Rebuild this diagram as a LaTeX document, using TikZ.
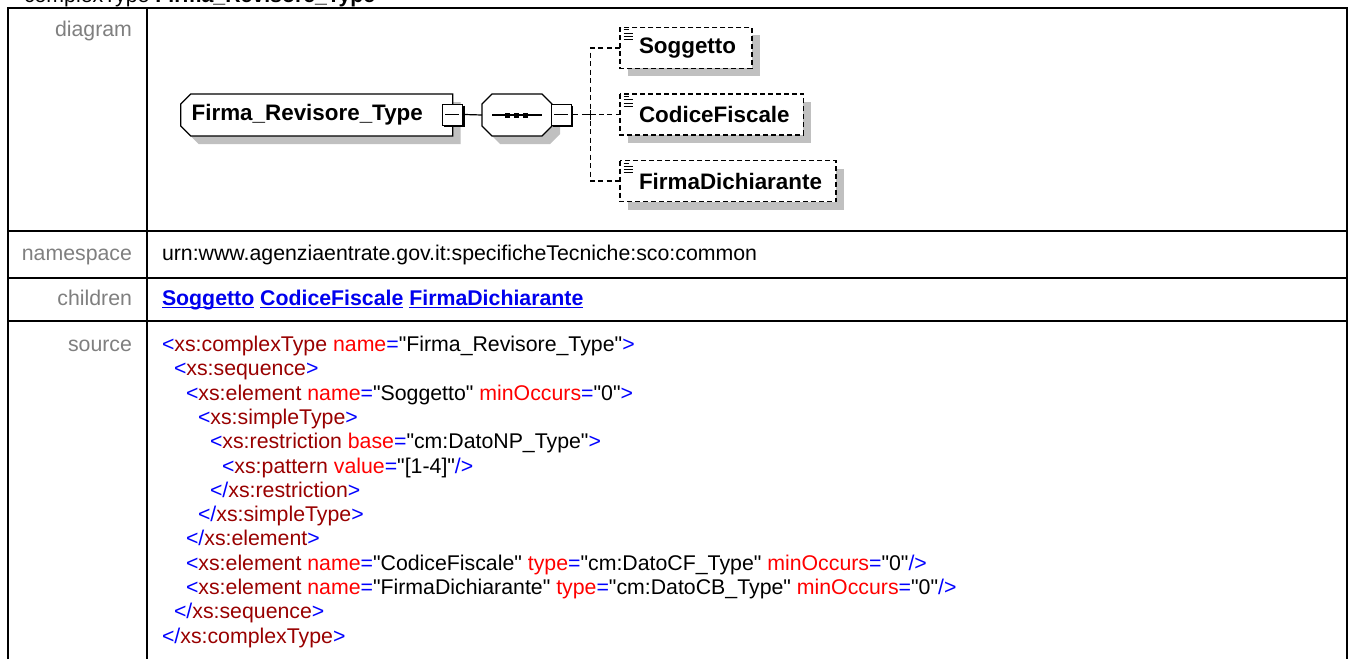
\documentclass[tikz,border=0pt]{standalone}
\usepackage{fontspec}
\setmainfont{Liberation Sans}
\usetikzlibrary{calc}
\definecolor{lblgray}{HTML}{7F7F7F}
\definecolor{tagc}{HTML}{990000}
\definecolor{attc}{HTML}{FF0000}
\definecolor{punc}{HTML}{0000FF}
\definecolor{shd}{HTML}{C0C0C0}
\definecolor{linkc}{HTML}{0000EE}
\newcommand\tf{\fontsize{21.3}{24.3}\selectfont}
\newcommand\ef{\fontsize{22.4}{26}\selectfont\bfseries}
\newcommand\xp[1]{\textcolor{punc}{#1}}
\newcommand\xt[1]{\textcolor{tagc}{#1}}
\newcommand\xa[1]{\textcolor{attc}{#1}}
\newcommand\qq{\textquotedbl}
\newcommand\lnk[1]{\textcolor{linkc}{\setbox0\hbox{#1}\rlap{\rule[-2.4pt]{\wd0}{1.4pt}}\box0}}
\newcommand\mkelem[5]{%
  \path (#2,#3) node[anchor=west, minimum width=#4pt, minimum height=41pt] (#1) {};
  \fill[shd] ([shift={(8,8)}]#1.north west) rectangle ([shift={(8,8)}]#1.south east);
  \draw[elembox] (#1.north west) rectangle (#1.south east);
  \node[etext] (#1t) at ([xshift=19pt]#1.west) {#5};
  \draw[line width=0.9pt] ([shift={(3.5,2.5)}]#1.north west) -- ++(5,0);
  \foreach \yy in {5.8,9.1,12.4} \draw[line width=0.9pt] ([shift={(3.5,\yy)}]#1.north west) -- ++(9,0);
}
\begin{document}
\begin{tikzpicture}[x=1pt,y=-1pt,
  every node/.style={inner sep=0pt, outer sep=0pt},
  lbl/.style={anchor=base east, text=lblgray, font=\tf},
  src/.style={anchor=base west, font=\tf},
  etext/.style={anchor=west, font=\ef, text=black},
  elembox/.style={draw=black, line width=1.6pt, dash pattern=on 5pt off 3pt, fill=white},
  conn/.style={line width=1.2pt},
  dconn/.style={line width=1.5pt, dash pattern=on 5pt off 3.5pt},
  tbl/.style={line width=2.5pt},
  minusbox/.style={draw=black, fill=white, line width=1pt, minimum width=20pt, minimum height=21pt},
]
\useasboundingbox (0,0) rectangle (1349,659);
\fill[white] (0,0) rectangle (1349,659);

% title (cut off at top)
\node[anchor=base west, font=\tf] (title) at (24,2) {complexType \textbf{Firma\_Revisore\_Type}};

% table
\draw[tbl] (8,659) -- (8,8) -- (1347,8) -- (1347,659);
\draw[tbl] (147,8) -- (147,659);
\draw[tbl] (8,231) -- (1347,231);
\draw[tbl] (8,278) -- (1347,278);
\draw[tbl] (8,321) -- (1347,321);

% labels
\node[lbl] (ldiag) at (132,36.5) {diagram};
\node[lbl] (lns) at (132,260.5) {namespace};
\node[lbl] (lch) at (132,305.5) {children};
\node[lbl] (lsrc) at (132,351.5) {source};

% namespace / children
\node[src] (ns) at (162,260.5) {urn:www.agenziaentrate.gov.it:specificheTecniche:sco:common};
\node[src, font=\tf\bfseries] (ch) at (162,305.5) {\lnk{Soggetto} \lnk{CodiceFiscale} \lnk{FirmaDichiarante}};

% source
\node[src] (s0) at (162,351.5) {\xp{<}\xt{xs:complexType} \xa{name}\xp{=}\qq Firma\_Revisore\_Type\qq\xp{>}};
\node[src] (s1) at (174,375.8) {\xp{<}\xt{xs:sequence}\xp{>}};
\node[src] (s2) at (186,400.1) {\xp{<}\xt{xs:element} \xa{name}\xp{=}\qq Soggetto\qq{} \xa{minOccurs}\xp{=}\qq 0\qq\xp{>}};
\node[src] (s3) at (198,424.4) {\xp{<}\xt{xs:simpleType}\xp{>}};
\node[src] (s4) at (210,448.7) {\xp{<}\xt{xs:restriction} \xa{base}\xp{=}\qq cm:DatoNP\_Type\qq\xp{>}};
\node[src] (s5) at (222,473.0) {\xp{<}\xt{xs:pattern} \xa{value}\xp{=}\qq[1-4]\qq\xp{/>}};
\node[src] (s6) at (210,497.3) {\xp{</}\xt{xs:restriction}\xp{>}};
\node[src] (s7) at (198,521.6) {\xp{</}\xt{xs:simpleType}\xp{>}};
\node[src] (s8) at (186,545.9) {\xp{</}\xt{xs:element}\xp{>}};
\node[src] (s9) at (186,570.2) {\xp{<}\xt{xs:element} \xa{name}\xp{=}\qq CodiceFiscale\qq{} \xa{type}\xp{=}\qq cm:DatoCF\_Type\qq{} \xa{minOccurs}\xp{=}\qq 0\qq\xp{/>}};
\node[src] (s10) at (186,594.5) {\xp{<}\xt{xs:element} \xa{name}\xp{=}\qq FirmaDichiarante\qq{} \xa{type}\xp{=}\qq cm:DatoCB\_Type\qq{} \xa{minOccurs}\xp{=}\qq 0\qq\xp{/>}};
\node[src] (s11) at (174,618.8) {\xp{</}\xt{xs:sequence}\xp{>}};
\node[src] (s12) at (162,643.1) {\xp{</}\xt{xs:complexType}\xp{>}};

% ---- diagram ----
% root
\begin{scope}[shift={(8,8)}]
\fill[shd] (190.7,94) -- (452.7,94) -- (452.7,136) -- (190.7,136) -- (180.7,126) -- (180.7,104) -- cycle;
\end{scope}
\draw[line width=1.2pt, fill=white] (190.7,94) -- (452.7,94) -- (452.7,136) -- (190.7,136) -- (180.7,126) -- (180.7,104) -- cycle;
\node[etext] (root) at (191.7,115) {Firma\_Revisore\_Type};
\node[minusbox] (rbox) at (452.2,114.5) {};
\draw[line width=2.4pt] ([shift={(1.2,1.5)}]rbox.north east) -- ([shift={(1.2,1.2)}]rbox.south east) -- ([shift={(1.5,1.2)}]rbox.south west);
\draw[line width=1.2pt] ([xshift=3pt]rbox.west) -- ([xshift=-3pt]rbox.east);

% sequence
\path (517,115) node[minimum width=70pt, minimum height=42pt] (seq) {};
\begin{scope}[shift={(8,8)}]
\fill[shd] (492,94) -- (542,94) -- (552,104) -- (552,126) -- (542,136) -- (492,136) -- (482,126) -- (482,104) -- cycle;
\end{scope}
\draw[line width=1.2pt, fill=white] (492,94) -- (542,94) -- (552,104) -- (552,126) -- (542,136) -- (492,136) -- (482,126) -- (482,104) -- cycle;
\draw[conn] (492,115) -- (542,115);
\fill (505,112.5) rectangle +(5,5);
\fill (514,112.5) rectangle +(5,5);
\fill (523,112.5) rectangle +(5,5);
\node[minusbox] (sbox) at (561,114.5) {};
\draw[line width=2.4pt] ([shift={(1.2,1.5)}]sbox.north east) -- ([shift={(1.2,1.2)}]sbox.south east) -- ([shift={(1.5,1.2)}]sbox.south west);
\draw[line width=1.2pt] ([xshift=3pt]sbox.west) -- ([xshift=-3pt]sbox.east);

\draw[conn] ([xshift=2.4pt]rbox.east) -- (seq.west);

% children
\mkelem{sog}{620}{47.8}{131.7}{Soggetto}
\mkelem{cf}{620}{114.5}{183.3}{CodiceFiscale}
\mkelem{fd}{620}{181}{216}{FirmaDichiarante}

\coordinate (fork) at (590.7,114.5);
\draw[dconn] ([xshift=2.4pt]sbox.east) -- (cf.west);
\draw[dconn] (sog.west) -| (fork) |- (fd.west);
\draw[conn] ([xshift=-5pt]fork) -- ([xshift=5pt]fork);
\draw[conn] ([yshift=-5pt]fork) -- ([yshift=5pt]fork);
\end{tikzpicture}
\end{document}
